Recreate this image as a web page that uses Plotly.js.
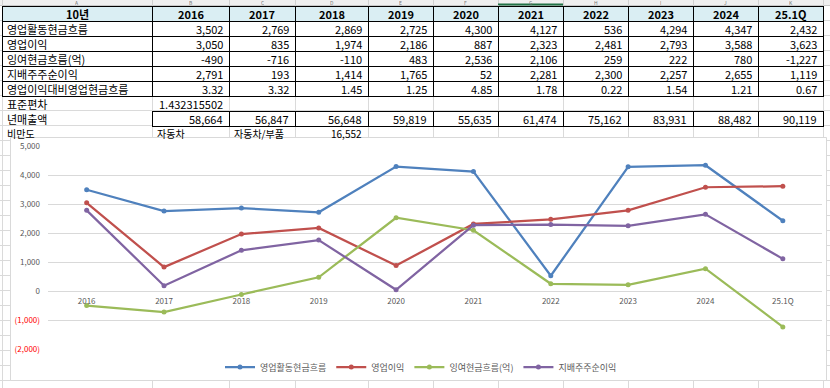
<!DOCTYPE html>
<html>
<head>
<meta charset="utf-8">
<script src="https://cdn.plot.ly/plotly-3.0.1.min.js"></script>
<style>html,body{margin:0;padding:0;background:#fff;}#chart{width:830px;height:388px;}</style>
</head>
<body>
<div id="chart"></div>
<script>
// ---------- data ----------
const headerLabel = '10년';
const periods = ['2016','2017','2018','2019','2020','2021','2022','2023','2024','25.1Q'];
const seriesNames = ['영업활동현금흐름','영업이익','잉여현금흐름(억)','지배주주순이익'];
const opCashFlow   = [3502, 2769, 2869, 2725, 4300, 4127, 536, 4294, 4347, 2432];
const opProfit     = [3050, 835, 1974, 2186, 887, 2323, 2481, 2793, 3588, 3623];
const freeCashFlow = [-490, -716, -110, 483, 2536, 2106, 259, 222, 780, -1227];
const netIncome    = [2791, 193, 1414, 1765, 52, 2281, 2300, 2257, 2655, 1119];
const ratioLabel = '영업이익대비영업현금흐름';
const cashToProfit = [3.32, 3.32, 1.45, 1.25, 4.85, 1.78, 0.22, 1.54, 1.21, 0.67];
const stdLabel = '표준편차';
const stdValue = '1.432315502';
const salesLabel = '년매출액';
const annualSales = [58664, 56847, 56648, 59819, 55635, 61474, 75162, 83931, 88482, 90119];
const obesityLabel = '비만도';
const obesityRow = ['자동차', '자동차/부품', '16,552'];
const columnLetters = ['A','B','C','D','E','F','G','H','I','J','K'];
const yTickVals = [0, 1000, 2000, 3000, 4000, 5000];
const yNegTickVals = [-1000, -2000];
const yNegTickText = ['(1,000)', '(2,000)'];

// ---------- helpers ----------
const W = 830, H = 388;
const px = v => v / W;
const py = v => 1 - v / H;
const fmt = n => n.toLocaleString('en-US');
const FONT = '"Noto Sans CJK KR", "Malgun Gothic", sans-serif';
const colors = ['#4F81BD', '#C0504D', '#9BBB59', '#8064A2'];
const seriesData = [opCashFlow, opProfit, freeCashFlow, netIncome];

// ---------- spreadsheet layout ----------
const colEdges = [2, 152, 229, 295, 368, 433, 498, 563, 628, 693, 758, 823];
const rowTop = 6, rowH = 15;
const rowY = r => rowTop + r * rowH;           // top of row r (0 = header row)
const shapes = [];
const annotations = [];
const hline = (y, x0, x1, color, w) => shapes.push({type: 'line', xref: 'paper', yref: 'paper',
  x0: px(x0), x1: px(x1), y0: py(y), y1: py(y), line: {color: color, width: w || 1}, layer: 'below'});
const vline = (x, y0, y1, color, w) => shapes.push({type: 'line', xref: 'paper', yref: 'paper',
  x0: px(x), x1: px(x), y0: py(y0), y1: py(y1), line: {color: color, width: w || 1}, layer: 'below'});
const cellText = (text, c, r, align, bold, size, dy) => {
  const x0 = colEdges[c], x1 = colEdges[c + 1];
  let x, xa;
  if (align === 'left') { x = x0 + 3.5; xa = 'left'; }
  else if (align === 'center') { x = (x0 + x1) / 2; xa = 'center'; }
  else { x = x1 - 5; xa = 'right'; }
  annotations.push({xref: 'paper', yref: 'paper', x: px(x), y: py(rowY(r) + rowH / 2 + 0.5 + (dy || 0)),
    xanchor: xa, yanchor: 'middle', showarrow: false, borderpad: 0,
    text: bold ? '<b>' + text + '</b>' : text,
    font: {family: FONT, size: size || 11, color: '#000000'}});
};

// column-letter strip
shapes.push({type: 'rect', xref: 'paper', yref: 'paper', x0: 0, x1: 1, y0: py(5.5), y1: 1,
  fillcolor: '#EFEFEF', line: {width: 0}, layer: 'below'});
hline(5.5, 0, 830, '#C8C8C8');
colEdges.forEach(e => vline(e + 0.5, 0, 5.5, '#D0D0D0'));
shapes.push({type: 'line', xref: 'paper', yref: 'paper', x0: px(498), x1: px(563), y0: py(4.5), y1: py(4.5),
  line: {color: '#217346', width: 2}, layer: 'below'});

// gray gridlines
for (let y = 20.5; y <= 388; y += 15) hline(y, 0, 830, '#DADADA');
colEdges.forEach(e => vline(e + 0.5, 5.5, 388, '#DADADA'));

// header fill
shapes.push({type: 'rect', xref: 'paper', yref: 'paper', x0: px(colEdges[0]), x1: px(colEdges[11]),
  y0: py(rowY(1)), y1: py(rowY(0)), fillcolor: '#DAEEF3', line: {width: 0}, layer: 'below'});
// white fill of bordered areas over grid
shapes.push({type: 'rect', xref: 'paper', yref: 'paper', x0: px(colEdges[0]), x1: px(colEdges[11]),
  y0: py(rowY(6)), y1: py(rowY(1)), fillcolor: '#FFFFFF', line: {width: 0}, layer: 'below'});
shapes.push({type: 'rect', xref: 'paper', yref: 'paper', x0: px(colEdges[1]), x1: px(colEdges[11]),
  y0: py(rowY(8)), y1: py(rowY(7)), fillcolor: '#FFFFFF', line: {width: 0}, layer: 'below'});

// black borders: main block (header + 5 rows)
for (let r = 0; r <= 6; r++) hline(rowY(r) + 0.5, colEdges[0], colEdges[11] + 1, '#000000');
colEdges.forEach(e => vline(e + 0.5, rowY(0), rowY(6) + 1, '#000000'));
// annual-sales box
hline(rowY(7) + 0.5, colEdges[1], colEdges[11] + 1, '#000000');
hline(rowY(8) + 0.5, colEdges[1], colEdges[11] + 1, '#000000');
colEdges.slice(1).forEach(e => vline(e + 0.5, rowY(7), rowY(8) + 1, '#000000'));

// column letters (tiny, in the strip at the very top)
colEdges.slice(1).forEach((e, i) => annotations.push({xref: 'paper', yref: 'paper',
  x: px((colEdges[i] + colEdges[i + 1]) / 2), y: py(3), xanchor: 'center', yanchor: 'middle',
  showarrow: false, borderpad: 0, height: 5, text: columnLetters[i],
  font: {family: FONT, size: 5, color: '#777777'}}));

// cell texts
cellText(headerLabel, 0, 0, 'center', true);
periods.forEach((p, i) => cellText(p, i + 1, 0, 'center', true));
seriesNames.forEach((name, r) => {
  cellText(name, 0, r + 1, 'left');
  seriesData[r].forEach((v, i) => cellText(fmt(v), i + 1, r + 1, 'right'));
});
cellText(ratioLabel, 0, 5, 'left');
cashToProfit.forEach((v, i) => cellText(v.toFixed(2), i + 1, 5, 'right'));
cellText(stdLabel, 0, 6, 'left');
cellText(stdValue, 1, 6, 'right');
cellText(salesLabel, 0, 7, 'left');
annualSales.forEach((v, i) => cellText(fmt(v), i + 1, 7, 'right'));
cellText(obesityLabel, 0, 8, 'left', false, 10, -0.5);
cellText(obesityRow[0], 1, 8, 'left', false, 10, -0.5);
cellText(obesityRow[1], 2, 8, 'left', false, 10, -0.5);
cellText(obesityRow[2], 3, 8, 'right', false, 10, -0.5);

// chart frame (white box above the grid)
shapes.push({type: 'rect', xref: 'paper', yref: 'paper', x0: px(10.5), x1: px(826.5), y0: py(380.5), y1: py(137.5),
  fillcolor: '#ffffff', line: {color: '#D9D9D9', width: 1}, layer: 'below'});

// ---------- chart ----------
const yTop = 146.3, yBot = 349.3;
const yDom = [py(yBot), py(yTop)];
const zeroPos = yDom[0] + (2000 / 7000) * (yDom[1] - yDom[0]);

const lineTraces = seriesNames.map((name, k) => ({
  type: 'scatter', mode: 'lines+markers', name: name,
  x: periods, y: seriesData[k],
  xaxis: 'x', yaxis: 'y',
  line: {color: colors[k], width: 2.25},
  marker: {color: colors[k], size: 5, symbol: 'circle'}
}));

const layout = {
  width: W, height: H,
  margin: {l: 0, r: 0, t: 0, b: 0},
  paper_bgcolor: '#ffffff',
  plot_bgcolor: 'rgba(0,0,0,0)',
  font: {family: FONT, size: 8, color: '#595959'},
  showlegend: true,
  legend: {
    orientation: 'h', x: px(421), xanchor: 'center', y: py(367), yanchor: 'middle',
    font: {family: FONT, size: 9, color: '#595959'},
    bgcolor: 'rgba(0,0,0,0)', itemwidth: 30, tracegroupgap: 0
  },
  xaxis: {
    type: 'category', domain: [px(48), px(821.5)], range: [-0.5, periods.length - 0.5],
    anchor: 'free', position: zeroPos,
    showgrid: false, showline: false, zeroline: false, ticks: '',
    tickfont: {family: FONT, size: 8, color: '#595959'}, ticklabelstandoff: 4,
    fixedrange: true
  },
  yaxis: {
    domain: yDom, range: [-2000, 5000], anchor: 'x',
    tickvals: yTickVals, tickformat: ',',
    showgrid: true, gridcolor: '#D9D9D9', gridwidth: 1,
    zeroline: false, showline: false, ticks: '',
    tickfont: {family: FONT, size: 8, color: '#595959'}, ticklabelstandoff: 7,
    fixedrange: true
  },
  yaxis2: {
    overlaying: 'y', range: [-2000, 5000], anchor: 'x', side: 'left',
    tickvals: yNegTickVals, ticktext: yNegTickText,
    showgrid: true, gridcolor: '#D9D9D9', gridwidth: 1,
    zeroline: false, showline: false, ticks: '',
    tickfont: {family: FONT, size: 8, color: '#FF0000'}, ticklabelstandoff: 7,
    fixedrange: true
  },
  shapes: shapes,
  annotations: annotations
};

// invisible trace to activate yaxis2
const helper = {type: 'scatter', x: [periods[0]], y: [0], xaxis: 'x', yaxis: 'y2',
  mode: 'markers', marker: {opacity: 0}, showlegend: false, hoverinfo: 'skip'};

Plotly.newPlot('chart', [helper].concat(lineTraces), layout,
  {staticPlot: true, displayModeBar: false});
</script>
</body>
</html>
